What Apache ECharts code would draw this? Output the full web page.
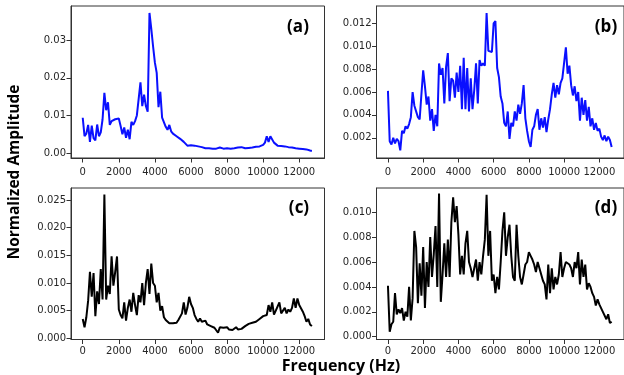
<!DOCTYPE html>
<html><head><meta charset="utf-8">
<script src="https://cdn.jsdelivr.net/npm/echarts@6/dist/echarts.min.js"></script>
<style>html,body{margin:0;padding:0;background:#fff}#c{width:624px;height:375px}</style>
</head><body><div id="c"></div>
<script>
const freq = [0,100,200,300,400,500,600,700,800,900,
1000,1100,1200,1300,1400,1500,1600,1700,1800,1900,
2000,2100,2200,2300,2400,2500,2600,2700,2800,2900,
3000,3100,3200,3300,3400,3500,3600,3700,3800,3900,
4000,4100,4200,4300,4400,4500,4600,4700,4800,4900,
5000,5100,5200,5300,5400,5500,5600,5700,5800,5900,
6000,6100,6200,6300,6400,6500,6600,6700,6800,6900,
7000,7100,7200,7300,7400,7500,7600,7700,7800,7900,
8000,8100,8200,8300,8400,8500,8600,8700,8800,8900,
9000,9100,9200,9300,9400,9500,9600,9700,9800,9900,
10000,10100,10200,10300,10400,10500,10600,10700,10800,10900,
11000,11100,11200,11300,11400,11500,11600,11700,11800,11900,
12000,12100,12200,12300,12400,12500,12600,12700];

const ampA = [0.0094,0.0045,0.0052,0.0075,0.0030,0.0073,0.0040,0.0034,0.0076,0.0045,
0.0055,0.0090,0.0160,0.0114,0.0135,0.0075,0.0085,0.0082,0.0090,0.0085,
0.0092,0.0072,0.0050,0.0068,0.0041,0.0062,0.0037,0.0083,0.0075,0.0085,
0.0100,0.0095,0.0188,0.0125,0.0155,0.0125,0.0110,0.0372,0.0330,0.0283,
0.0240,0.0213,0.0122,0.0163,0.0094,0.0090,0.0070,0.0062,0.0075,0.0058,
0.0052,0.0048,0.0045,0.0050,0.0038,0.0042,0.0030,0.0025,0.0020,0.0022,
0.0021,0.0024,0.0020,0.0022,0.0018,0.0017,0.0016,0.0014,0.0013,0.0012,
0.0013,0.0011,0.0012,0.0014,0.0012,0.0013,0.0015,0.0019,0.0012,0.0011,
0.0013,0.0010,0.0012,0.0011,0.0013,0.0012,0.0015,0.0013,0.0016,0.0014,
0.0013,0.0015,0.0014,0.0013,0.0015,0.0014,0.0017,0.0015,0.0018,0.0020,
0.0022,0.0028,0.0045,0.0030,0.0045,0.0040,0.0028,0.0025,0.0020,0.0022,
0.0019,0.0020,0.0018,0.0017,0.0016,0.0014,0.0015,0.0012,0.0013,0.0011,
0.0012,0.0010,0.0011,0.0009,0.0010,0.0008,0.0007,0.0006];

const ampB = [0.0061,0.0017,0.0014,0.0020,0.0015,0.0019,0.0017,0.0009,0.0026,0.0024,
0.0030,0.0028,0.0032,0.0038,0.0060,0.0048,0.0049,0.0038,0.0036,0.0058,
0.0079,0.0065,0.0049,0.0056,0.0035,0.0045,0.0026,0.0040,0.0030,0.0085,
0.0075,0.0081,0.0050,0.0082,0.0094,0.0052,0.0072,0.0070,0.0055,0.0077,
0.0060,0.0083,0.0045,0.0090,0.0045,0.0081,0.0043,0.0072,0.0045,0.0062,
0.0085,0.0050,0.0088,0.0083,0.0085,0.0083,0.0129,0.0096,0.0097,0.0095,
0.0120,0.0122,0.0081,0.0073,0.0056,0.0050,0.0033,0.0030,0.0043,0.0019,
0.0033,0.0030,0.0043,0.0035,0.0049,0.0041,0.0050,0.0066,0.0037,0.0026,
0.0017,0.0012,0.0027,0.0030,0.0040,0.0045,0.0027,0.0037,0.0029,0.0038,
0.0025,0.0036,0.0045,0.0058,0.0068,0.0055,0.0066,0.0058,0.0068,0.0072,
0.0071,0.0099,0.0076,0.0083,0.0066,0.0057,0.0065,0.0052,0.0060,0.0035,
0.0055,0.0040,0.0053,0.0035,0.0047,0.0030,0.0037,0.0027,0.0033,0.0026,
0.0028,0.0021,0.0018,0.0022,0.0017,0.0021,0.0018,0.0012];

const ampC = [0.0035,0.0020,0.0038,0.0068,0.0120,0.0075,0.0118,0.0040,0.0085,0.0062,
0.0125,0.0070,0.0260,0.0070,0.0095,0.0080,0.0148,0.0095,0.0120,0.0148,
0.0052,0.0042,0.0036,0.0065,0.0032,0.0055,0.0070,0.0048,0.0082,0.0060,
0.0042,0.0078,0.0065,0.0100,0.0060,0.0100,0.0125,0.0080,0.0135,0.0100,
0.0095,0.0065,0.0082,0.0050,0.0058,0.0038,0.0033,0.0030,0.0027,0.0029,
0.0027,0.0030,0.0028,0.0033,0.0035,0.0045,0.0065,0.0043,0.0055,0.0075,
0.0062,0.0055,0.0042,0.0035,0.0030,0.0036,0.0030,0.0027,0.0032,0.0025,
0.0028,0.0022,0.0020,0.0019,0.0017,0.0010,0.0020,0.0018,0.0019,0.0017,
0.0020,0.0016,0.0019,0.0015,0.0018,0.0020,0.0016,0.0013,0.0017,0.0020,
0.0022,0.0020,0.0026,0.0023,0.0028,0.0025,0.0030,0.0028,0.0035,0.0032,
0.0040,0.0038,0.0042,0.0060,0.0048,0.0065,0.0043,0.0050,0.0048,0.0065,
0.0045,0.0050,0.0055,0.0045,0.0052,0.0048,0.0055,0.0072,0.0055,0.0072,
0.0060,0.0058,0.0048,0.0040,0.0030,0.0035,0.0025,0.0022];

const ampD = [0.0041,0.0004,0.0010,0.0012,0.0035,0.0018,0.0022,0.0019,0.0023,0.0013,
0.0020,0.0016,0.0040,0.0013,0.0031,0.0085,0.0072,0.0027,0.0059,0.0033,
0.0072,0.0023,0.0060,0.0040,0.0080,0.0048,0.0066,0.0089,0.0040,0.0115,
0.0028,0.0050,0.0075,0.0048,0.0078,0.0048,0.0092,0.0112,0.0092,0.0105,
0.0082,0.0050,0.0065,0.0050,0.0075,0.0085,0.0060,0.0055,0.0048,0.0055,
0.0062,0.0045,0.0060,0.0050,0.0065,0.0078,0.0114,0.0065,0.0085,0.0045,
0.0050,0.0035,0.0048,0.0038,0.0060,0.0085,0.0100,0.0065,0.0080,0.0090,
0.0065,0.0048,0.0045,0.0090,0.0065,0.0048,0.0042,0.0050,0.0058,0.0060,
0.0068,0.0065,0.0062,0.0058,0.0052,0.0060,0.0055,0.0050,0.0045,0.0042,
0.0030,0.0058,0.0035,0.0055,0.0038,0.0048,0.0042,0.0050,0.0068,0.0048,
0.0055,0.0060,0.0060,0.0058,0.0055,0.0048,0.0060,0.0055,0.0068,0.0042,
0.0062,0.0048,0.0058,0.0038,0.0043,0.0040,0.0035,0.0032,0.0025,0.0030,
0.0026,0.0025,0.0020,0.0019,0.0014,0.0018,0.0011,0.0012];

const xTicks = [0,2000,4000,6000,8000,10000,12000];
const yTicksA = [0.00,0.01,0.02,0.03];
const yTicksB = [0.002,0.004,0.006,0.008,0.010,0.012];
const yTicksC = [0.000,0.005,0.010,0.015,0.020,0.025];
const yTicksD = [0.000,0.002,0.004,0.006,0.008,0.010];
const panelLabels = ['(a)','(b)','(c)','(d)'];
const xTitle = 'Frequency (Hz)';
const yTitle = 'Normalized Amplitude';

const panels = [
  {vals: ampA, ticks: yTicksA, dec: 2, color: '#0a10ff', xm: 9, grid: {left: 71, top: 6, width: 253.5, height: 152}, y: [-0.00128, 0.03904]},
  {vals: ampB, ticks: yTicksB, dec: 3, color: '#0a10ff', xm: 9, grid: {left: 376.5, top: 6, width: 251.5, height: 152}, y: [0.00023, 0.01352]},
  {vals: ampC, ticks: yTicksC, dec: 3, color: '#000000', xm: 7, grid: {left: 71, top: 188, width: 253.5, height: 151.5}, y: [-0.00022, 0.02717]},
  {vals: ampD, ticks: yTicksD, dec: 3, color: '#000000', xm: 7, grid: {left: 376.5, top: 188, width: 251.5, height: 151.5}, y: [-0.000225, 0.01195]}
];

const tickFont = {fontFamily: 'DejaVu Sans', fontSize: 10, color: '#262626'};
const frame = '#333333';

const option = {
  animation: false,
  backgroundColor: '#ffffff',
  grid: panels.map(p => Object.assign({show: true, borderColor: frame, borderWidth: 1, backgroundColor: 'transparent'}, p.grid)),
  xAxis: panels.map((p, i) => ({
    type: 'value', gridIndex: i, min: -650, max: 13400,
    splitLine: {show: false},
    axisLine: {show: true, onZero: false, lineStyle: {color: frame, width: 1}},
    axisTick: {show: true, customValues: xTicks, length: 4.5, lineStyle: {color: frame}},
    axisLabel: Object.assign({customValues: xTicks, margin: p.xm, formatter: v => String(v)}, tickFont)
  })),
  yAxis: panels.map((p, i) => ({
    type: 'value', gridIndex: i, min: p.y[0], max: p.y[1],
    splitLine: {show: false},
    axisLine: {show: true, onZero: false, lineStyle: {color: frame, width: 1}},
    axisTick: {show: true, customValues: p.ticks, length: 4.5, lineStyle: {color: frame}},
    axisLabel: Object.assign({customValues: p.ticks, margin: 5, formatter: v => v.toFixed(p.dec)}, tickFont)
  })),
  series: panels.map((p, i) => ({
    type: 'line', xAxisIndex: i, yAxisIndex: i,
    showSymbol: false, symbol: 'none',
    lineStyle: {color: p.color, width: 2},
    data: freq.map((f, k) => [f, p.vals[k]])
  })),
  graphic: [
    {type: 'text', x: 298, y: 27, style: {text: panelLabels[0], font: 'bold 17px "Open Sans"', fill: '#000', align: 'center', verticalAlign: 'middle'}},
    {type: 'text', x: 606, y: 27, style: {text: panelLabels[1], font: 'bold 17px "Open Sans"', fill: '#000', align: 'center', verticalAlign: 'middle'}},
    {type: 'text', x: 299, y: 208, style: {text: panelLabels[2], font: 'bold 17px "Open Sans"', fill: '#000', align: 'center', verticalAlign: 'middle'}},
    {type: 'text', x: 606, y: 208, style: {text: panelLabels[3], font: 'bold 17px "Open Sans"', fill: '#000', align: 'center', verticalAlign: 'middle'}},
    {type: 'text', x: 341, y: 366, style: {text: xTitle, font: 'bold 16px "Open Sans"', fill: '#000', align: 'center', verticalAlign: 'middle'}},
    {type: 'text', x: 15, y: 172, rotation: Math.PI / 2, style: {text: yTitle, font: 'bold 15.5px "Open Sans"', fill: '#000', align: 'center', verticalAlign: 'middle'}}
  ]
};

const chart = echarts.init(document.getElementById('c'), null, {renderer: 'canvas'});
chart.setOption(option);
</script>
</body></html>
